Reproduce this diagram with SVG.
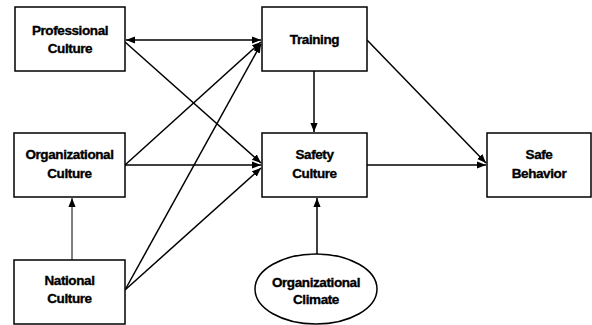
<svg xmlns="http://www.w3.org/2000/svg" width="592" height="325" viewBox="0 0 592 325">
<style>
.box{fill:#fff;stroke:#000;stroke-width:1.5}
.t{font-family:"Liberation Sans",Arial,sans-serif;font-weight:bold;font-size:13.5px;letter-spacing:-0.4px;text-anchor:middle;fill:#000;stroke:#000;stroke-width:0.35}
.c{stroke:#000;stroke-width:1.5;fill:none;marker-end:url(#ah)}
</style>
<defs>
<marker id="ah" viewBox="0 0 10 10" refX="10" refY="5" markerWidth="9" markerHeight="9" markerUnits="userSpaceOnUse" orient="auto">
<path d="M0,1 L10,5 L0,9 Z" fill="#000"/>
</marker>
<marker id="as" viewBox="0 0 10 10" refX="0" refY="5" markerWidth="9" markerHeight="9" markerUnits="userSpaceOnUse" orient="auto">
<path d="M10,1 L0,5 L10,9 Z" fill="#000"/>
</marker>
</defs>
<rect width="592" height="325" fill="#fff"/>
<g id="connectors">
<line class="c" x1="126" y1="40" x2="261" y2="40" marker-start="url(#as)"/>
<line class="c" x1="125" y1="42" x2="261" y2="163"/>
<line class="c" x1="125" y1="165" x2="261" y2="42"/>
<line class="c" x1="125" y1="165" x2="261" y2="165"/>
<line class="c" x1="125" y1="290" x2="261" y2="44"/>
<line class="c" x1="125" y1="290" x2="261" y2="168"/>
<line class="c" x1="72" y1="260" x2="72" y2="198" style="stroke-width:1"/>
<line class="c" x1="314" y1="71" x2="314" y2="132"/>
<line class="c" x1="367" y1="40" x2="486" y2="163"/>
<line class="c" x1="367" y1="165" x2="486" y2="165"/>
<line class="c" x1="317" y1="254" x2="317" y2="198"/>
</g>
<g id="professional-culture">
<rect class="box" x="15" y="7" width="110" height="64"/>
<text class="t" x="70" y="35">Professional</text>
<text class="t" x="70" y="53">Culture</text>
</g>
<g id="training">
<rect class="box" x="262" y="7" width="105" height="64"/>
<text class="t" x="314.5" y="44">Training</text>
</g>
<g id="organizational-culture">
<rect class="box" x="14" y="133" width="111" height="64"/>
<text class="t" x="69.5" y="159">Organizational</text>
<text class="t" x="69.5" y="178">Culture</text>
</g>
<g id="safety-culture">
<rect class="box" x="262" y="133" width="105" height="64"/>
<text class="t" x="314.5" y="159">Safety</text>
<text class="t" x="314.5" y="178">Culture</text>
</g>
<g id="safe-behavior">
<rect class="box" x="487" y="133" width="104" height="64"/>
<text class="t" x="539" y="159">Safe</text>
<text class="t" x="539" y="178">Behavior</text>
</g>
<g id="national-culture">
<rect class="box" x="14" y="260" width="111" height="64"/>
<text class="t" x="69.5" y="285">National</text>
<text class="t" x="69.5" y="303">Culture</text>
</g>
<g id="organizational-climate">
<ellipse class="box" cx="316" cy="289" rx="61" ry="35"/>
<text class="t" x="316" y="287">Organizational</text>
<text class="t" x="316" y="304">Climate</text>
</g>
</svg>
